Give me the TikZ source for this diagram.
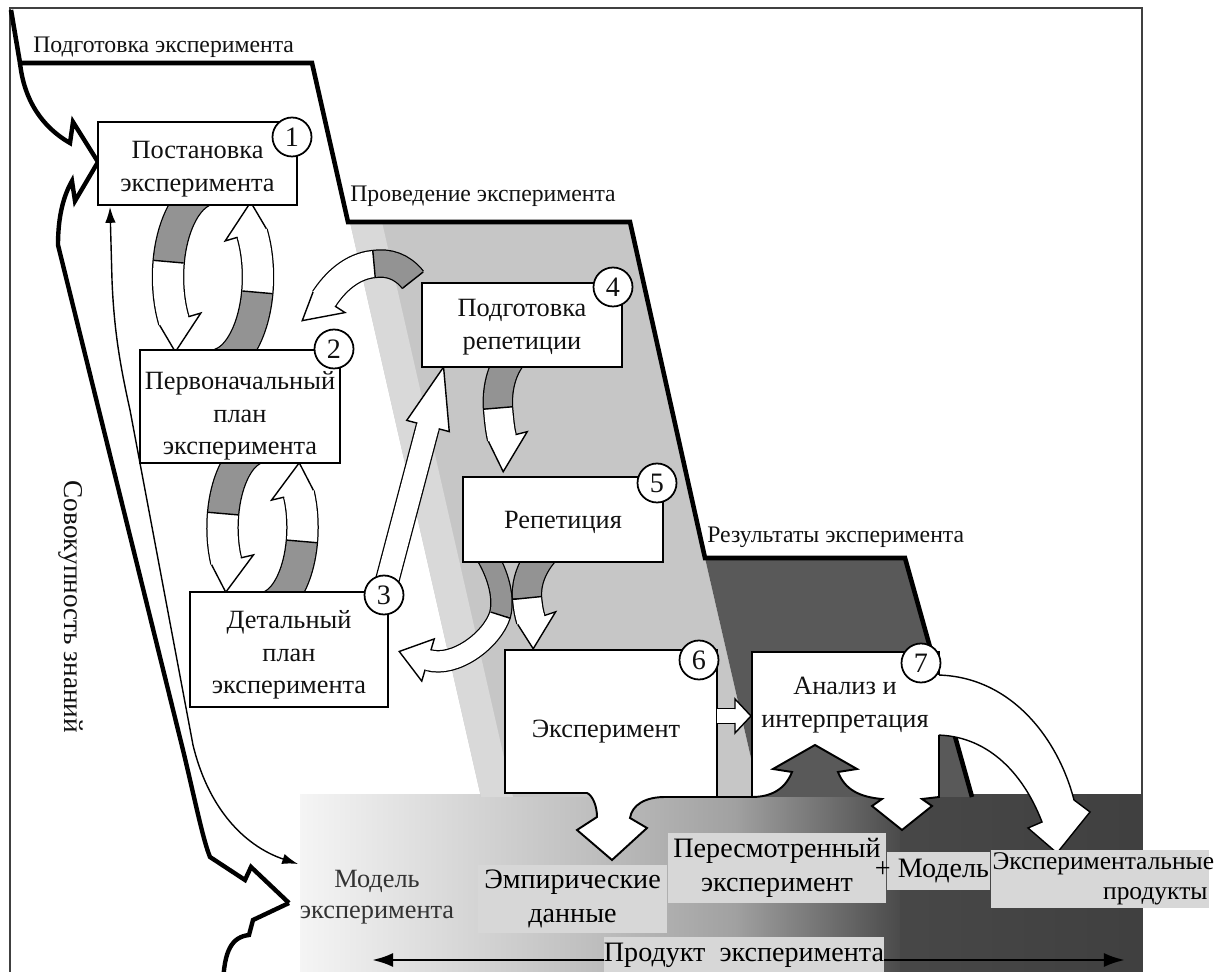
\documentclass[tikz,border=0pt]{standalone}
\usepackage{fontspec}
\setmainfont{Liberation Serif}
\usetikzlibrary{calc,arrows.meta}
\definecolor{txt}{HTML}{111111}
\definecolor{tailgray}{HTML}{939393}
\definecolor{phasegray}{HTML}{C6C6C6}
\definecolor{phaselight}{HTML}{D9D9D9}
\definecolor{darkphase}{HTML}{595959}
\definecolor{lblbg}{HTML}{D7D7D7}
\definecolor{framecol}{HTML}{404040}

\newcommand{\bandset}[3]{\def\bw{#1}\def\hw{#2}\def\hl{#3}%
 \pgfmathsetlengthmacro\bwa{2*#1}\pgfmathsetlengthmacro\bwo{2*#1+0.05cm}\pgfmathsetlengthmacro\bwh{0.5*#1}}

% symmetric head
\newcommand{\headat}[2]{%
 \coordinate (hE) at (#1); \coordinate (hP) at (#2);
 \coordinate (hB) at ($(hE)!0.05cm!(hP)$);
 \fill[white] ($(hB)!\bw!90:(hP)$) -- ($(hE)!\bw!90:(hP)$) -- ($(hE)!\hw!90:(hP)$) -- ($(hE)!-\hl!(hP)$) -- ($(hE)!\hw!-90:(hP)$) -- ($(hE)!\bw!-90:(hP)$) -- ($(hB)!\bw!-90:(hP)$) -- cycle;
 \draw[aline] ($(hE)!\bw!90:(hP)$) -- ($(hE)!\hw!90:(hP)$) -- ($(hE)!-\hl!(hP)$) -- ($(hE)!\hw!-90:(hP)$) -- ($(hE)!\bw!-90:(hP)$);}

% one-sided (barbed) head: #3 = side of the smooth outer edge
\newcommand{\headside}[3]{%
 \pgfmathsetmacro\os{#3}\pgfmathsetmacro\is{-(#3)}%
 \coordinate (hE) at (#1); \coordinate (hP) at (#2);
 \coordinate (hB) at ($(hE)!0.05cm!(hP)$);
 \coordinate (hT0) at ($(hE)!-\hl!(hP)$);
 \coordinate (hT) at ($(hT0)!\bwh!\os:(hE)$);
 \fill[white] ($(hB)!\bw!\os:(hP)$) -- ($(hE)!\bw!\os:(hP)$) -- (hT) -- ($(hE)!\hw!\is:(hP)$) -- ($(hE)!\bw!\is:(hP)$) -- ($(hB)!\bw!\is:(hP)$) -- cycle;
 \draw[aline] ($(hE)!\bw!\os:(hP)$) -- (hT) -- ($(hE)!\hw!\is:(hP)$) -- ($(hE)!\bw!\is:(hP)$);}

\newcommand{\bandbody}[7]{%
 \draw[line width=\bwo] (#1) .. controls (#2) and (#3) .. (#4) .. controls (#5) and (#6) .. (#7);
 \draw[line width=\bwa, tailgray] (#1) .. controls (#2) and (#3) .. (#4);
 \draw[line width=\bwa, white] (#4) .. controls (#5) and (#6) .. (#7);
 \draw[aline] ($(#4)!\bw!90:(#5)$) -- ($(#4)!\bw!-90:(#5)$);
 \draw[aline] ($(#1)!\bw!90:(#2)$) -- ($(#1)!\bw!-90:(#2)$);}

\newcommand{\bandcurve}[7]{\bandbody{#1}{#2}{#3}{#4}{#5}{#6}{#7}\headat{#7}{#6}}
\newcommand{\crescent}[7]{\bandbody{#1}{#2}{#3}{#4}{#5}{#6}{#7}\headside{#7}{#6}{90}}

\newcommand{\bandline}[2]{%
 \draw[line width=\bwo] (#1) -- (#2);
 \draw[line width=\bwa, white] (#1) -- (#2);
 \headat{#2}{#1}}

\tikzset{
 aline/.style={draw=black, line width=0.8pt},
 box/.style={draw=black, line width=1.1pt, fill=white, inner sep=0pt},
 boxtext/.style={align=center, text=txt, font=\fontsize{15}{18.5}\selectfont, inner sep=0pt},
 num/.style={circle, draw=black, line width=1pt, fill=white, minimum size=0.78cm, inner sep=0pt, font=\fontsize{16}{16}\selectfont, text=txt},
 phasetitle/.style={anchor=west, inner sep=0pt, text=txt, font=\fontsize{13.5}{16}\selectfont},
 lbl/.style={fill=lblbg, inner sep=0pt, text=black, font=\fontsize{16}{19.5}\selectfont, align=center},
 bolt/.style={line width=2.5pt, black},
 thinarrow/.style={line width=0.8pt, {Latex[length=9pt,width=6pt]}-{Latex[length=9pt,width=6pt]}},
 prodarrow/.style={line width=1.6pt, -{Latex[length=12pt,width=8pt]}},
}

\begin{document}
\begin{tikzpicture}[x=0.02cm,y=-0.02cm, line join=miter]
\useasboundingbox (0,0) rectangle (1214,972);
\fill[white] (0,0) rectangle (1214,972);

% bottom band
\shade[left color=black!4, right color=black!26] (300,795) rectangle (601,972);
\shade[left color=black!26, right color=black!37] (600,795) rectangle (736,972);
\shade[left color=black!37, right color=black!71] (735,795) rectangle (901,972);
\shade[left color=black!72, right color=black!75] (900,795) rectangle (1142,972);

% phase regions
\fill[phasegray] (350,222) -- (630,222) -- (705,558) -- (760,797) -- (481,797) -- cycle;
\fill[phaselight] (350,222) -- (382,222) -- (513,797) -- (481,797) -- cycle;
\fill[darkphase] (705,558) -- (905,558) -- (972,797) -- (760,797) -- cycle;

% frame
\draw[framecol, line width=1.2pt] (10,972) -- (10,8) -- (1142,8) -- (1142,972);

% phase boundary
\draw[line width=2.6pt] (11,10) -- (20,63) -- (312,63) -- (348,222) -- (630,222) -- (705,558) -- (905,558) -- (972,797);

\node[phasetitle] (h1) at (33,47) {Подготовка эксперимента};
\node[phasetitle] (h2) at (350,196) {Проведение эксперимента};
\node[phasetitle] (h3) at (707,537) {Результаты эксперимента};

% bolts
\draw[bolt] (20,63) .. controls (24,100) and (42,127) .. (70,143) -- (73,122) -- (98,162);
\draw[bolt] (98,162) -- (75,201) -- (72,181) .. controls (64,195) and (58,215) .. (58,245) -- (183,750) .. controls (195,800) and (203,840) .. (210,857) -- (245,880) -- (251,867) -- (289,903);
\draw[bolt] (289,903) -- (253,920) -- (249,935) .. controls (232,937) and (224,950) .. (223,985);

% thin knowledge arrow
\draw[thinarrow] (110,207) -- (112,280) .. controls (114,330) and (120,365) .. (130,410) -- (193,745) .. controls (210,815) and (250,848) .. (298,864);

% cycling arrows
\bandset{0.3cm}{0.56cm}{0.6cm}
\crescent{201.4,192}{184.5,200.9}{171.7,228}{168.7,261.7}{166.9,282.1}{168.7,303.1}{174,321}
\crescent{220.8,363.7}{239.4,357.3}{254,328.7}{257.3,292.3}{259.1,271.9}{257.3,250.9}{252,233}
\crescent{252.1,450.2}{237.1,458.3}{225.8,483}{223.1,513.6}{221.7,529.8}{222.7,546.4}{226.2,561.3}
\crescent{272.9,604.8}{287.9,596.7}{299.2,572}{301.9,541.4}{303.3,525.2}{302.3,508.6}{298.8,493.7}

\bandset{0.28cm}{0.52cm}{0.66cm}
\crescent{514,354}{500,370}{497,392}{498,408}{499,420}{500,430}{502,438}
\bandset{0.28cm}{0.52cm}{0.56cm}
\crescent{546,550}{532,565}{526,582}{527,598}{528,608}{529,614}{531,620}

\bandset{0.2cm}{0.44cm}{0.6cm}
\bandcurve{482,548}{497,570}{505,596}{500,615}{492,640}{455,668}{428,660}

\bandset{0.26cm}{0.5cm}{0.6cm}
\crescent{413,280}{402,266}{388,262}{374,264}{352,266}{335,282}{324,299}

\bandset{0.22cm}{0.44cm}{1.22cm}
\bandline{381,604}{428,426}

% big arrow from analysis
\filldraw[fill=white, aline] (935,675) .. controls (1010,675) and (1058,738) .. (1074,800) -- (1090,812) -- (1057,853) -- (1028,828) -- (1042,822) .. controls (1022,770) and (985,735) .. (935,735) -- cycle;

% boxes
\node[box, minimum width=3.98cm, minimum height=1.66cm] (b1) at (197.5,163.5) {};
\node[box, minimum width=4.0cm, minimum height=2.26cm] (b2) at (240,406.5) {};
\node[box, minimum width=3.96cm, minimum height=2.3cm] (b3) at (289,649.5) {};
\node[box, minimum width=4.0cm, minimum height=1.68cm] (b4) at (522,325) {};
\node[box, minimum width=4.0cm, minimum height=1.7cm] (b5) at (563,519.5) {};
\node[boxtext] (t1) at (197.5,169) {Постановка\\эксперимента};
\node[boxtext] (t2) at (240,416) {Первоначальный\\план\\эксперимента};
\node[boxtext] (t3) at (289,655) {Детальный\\план\\эксперимента};
\node[boxtext] (t4) at (522,327) {Подготовка\\репетиции};
\node[boxtext] (t5) at (563,522) {Репетиция};

\filldraw[fill=white, draw=black, line width=1.1pt] (505,650) -- (717,650) -- (717,797) -- (665,797) .. controls (645,797) and (632,805) .. (630,818) -- (647,828) -- (612,860) -- (577,830) -- (597,817) .. controls (597,805) and (592,795) .. (587,793) -- (505,793) -- cycle;
\draw[line width=1.1pt] (717,797) -- (752,797);
\fill[white] (752,652) -- (939,652) -- (939,797) -- (922,799) -- (932,806) -- (902,830) -- (872,806) -- (882,799) .. controls (860,797) and (845,790) .. (838,772) -- (857,769) -- (815,745) -- (773,769) -- (792,772) .. controls (785,790) and (770,797) .. (752,797) -- cycle;
\draw[line width=1.1pt] (939,735) -- (939,797) -- (922,799) -- (932,806) -- (902,830) -- (872,806) -- (882,799) .. controls (860,797) and (845,790) .. (838,772) -- (857,769) -- (815,745) -- (773,769) -- (792,772) .. controls (785,790) and (770,797) .. (752,797) -- (752,652) -- (939,652) -- (939,675);
\node[boxtext] (t6) at (606,732) {Эксперимент};
\node[boxtext] (t7) at (845,705) {Анализ и\\интерпретация};

\bandset{0.14cm}{0.34cm}{0.32cm}
\bandline{717,716}{735,716}

% number circles
\node[num] (n1) at (292,137) {1};
\node[num] (n2) at (334,349) {2};
\node[num] (n3) at (384,595) {3};
\node[num] (n4) at (613,287) {4};
\node[num] (n5) at (657,483) {5};
\node[num] (n6) at (699,660) {6};
\node[num] (n7) at (921,663) {7};

% bottom labels
\node[lbl, minimum width=3.78cm, minimum height=1.36cm] (emp) at (572.5,899) {Эмпирические\\данные};
\node[lbl, minimum width=4.36cm, minimum height=1.4cm] (rev) at (777,868) {Пересмотренный\\эксперимент};
\node[lbl, minimum width=2.06cm, minimum height=0.76cm] (plusbg) at (938,871) {};
\node[inner sep=0pt, text=black, font=\fontsize{16}{19.5}\selectfont] (plus) at (932,871) {+ Модель};
\node[lbl, minimum width=4.36cm, minimum height=1.16cm, text width=4.3cm, align=right, font=\fontsize{14.5}{17}\selectfont] (prods) at (1100,879) {Экспериментальные\\продукты};
\node[lbl, minimum width=5.6cm, minimum height=0.74cm] (prod) at (744,955) {Продукт~ эксперимента};
\coordinate (pl) at (372,960);
\coordinate (pr) at (1125,960);
\draw[prodarrow] (prod.west |- pl) -- (pl);
\draw[prodarrow] (prod.east |- pr) -- (pr);

\node[align=center, inner sep=0pt, text=black!80, font=\fontsize{15}{18}\selectfont] (model) at (377,897) {Модель\\эксперимента};
\node[rotate=-90, inner sep=0pt, text=txt, font=\fontsize{15.5}{18}\selectfont] (know) at (71,607) {Совокупность знаний};
\end{tikzpicture}
\end{document}
